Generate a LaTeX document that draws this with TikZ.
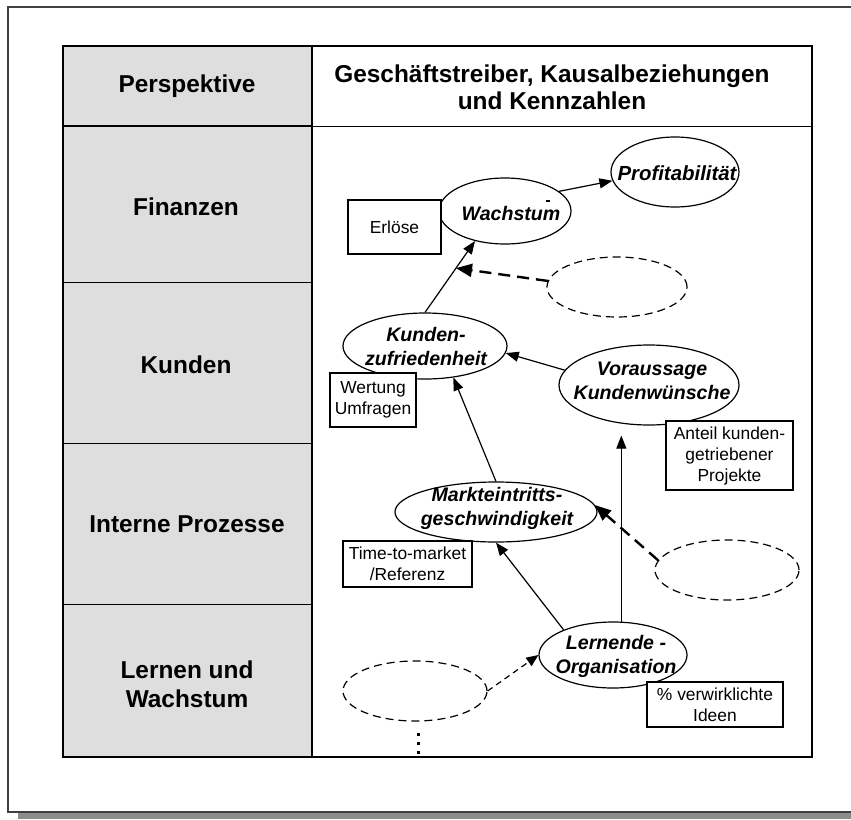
\documentclass[tikz,border=0pt]{standalone}
\usepackage{fontspec}
\setmainfont{Liberation Sans}
\usetikzlibrary{shapes.geometric,arrows.meta,calc}

\begin{document}
\begin{tikzpicture}[x=0.5pt,y=-0.5pt,
  oval/.style={ellipse, draw=black, line width=0.6pt, fill=white, inner sep=0pt},
  ghost/.style={ellipse, draw=black, line width=0.6pt, dash pattern=on 4pt off 2.5pt, inner sep=0pt},
  drv/.style={font=\fontsize{9.8}{12}\selectfont\bfseries\itshape, align=center, inner sep=0pt},
  kpi/.style={draw=black, line width=0.6pt, fill=white, font=\fontsize{8.7}{10.5}\selectfont, align=center, inner sep=0pt},
  persp/.style={font=\fontsize{12.2}{14.5}\selectfont\bfseries, align=center, inner sep=0pt},
  link/.style={line width=0.6pt, -{Triangle[length=6.5pt,width=5pt]}},
  hint/.style={line width=1.2pt, dash pattern=on 6pt off 3.5pt, -{Triangle[length=8pt,width=6.5pt]}},
  thinhint/.style={line width=0.6pt, dash pattern=on 3pt off 2.2pt, -{Triangle[length=6pt,width=5pt]}},
]
\useasboundingbox (0,0) rectangle (851,819);
\fill[white] (0,0) rectangle (851,819);

% page frame, open to the right, with its drop shadow
\fill[black!45] (18,812) rectangle (851,819);
\draw[black!75, line width=0.8pt] (851,7) -- (8,7) -- (8,812) -- (851,812);

% table: perspective column and driver column
\draw[black, line width=0.6pt] (312,46) rectangle (812,757);
\draw[black, line width=0.5pt] (312,126) -- (812,126);
\draw[black, line width=1pt, fill=black!13] (63,46) rectangle (312,757);
\draw[black, line width=1.2pt] (63,126) -- (312,126);
\draw[black, line width=0.5pt] (63,282) -- (312,282);
\draw[black, line width=0.5pt] (63,443) -- (312,443);
\draw[black, line width=0.5pt] (63,604) -- (312,604);

% headings
\node[persp] (hP) at (187,86) {Perspektive};
\node[persp, font=\fontsize{12.2}{13.5}\selectfont\bfseries] (hG) at (552,87) {Geschäftstreiber, Kausalbeziehungen\\und Kennzahlen};
\node[persp] (pF) at (186,207) {Finanzen};
\node[persp] (pK) at (186,365) {Kunden};
\node[persp] (pI) at (187,524) {Interne Prozesse};
\node[persp] (pL) at (187,684) {Lernen und\\Wachstum};

% driver ellipses
\node[oval, minimum width=66pt, minimum height=33pt] (wach) at (505,211) {};
\node[oval, minimum width=64pt, minimum height=35pt] (prof) at (675,172) {};
\node[ghost, minimum width=70pt, minimum height=30pt] (d1) at (617,287) {};
\node[oval, minimum width=82pt, minimum height=33pt] (kz) at (425,346) {};
\node[oval, minimum width=90pt, minimum height=40pt] (vw) at (649,385) {};
\node[oval, minimum width=101pt, minimum height=30pt] (mk) at (496,512) {};
\node[ghost, minimum width=72pt, minimum height=30pt] (d2) at (727,570) {};
\node[oval, minimum width=74pt, minimum height=33pt] (lo) at (613,655) {};
\node[ghost, minimum width=72pt, minimum height=30pt] (d3) at (415,691) {};

% driver names
\node[drv] (tWach) at (511,213) {Wachstum};
\draw[line width=0.75pt] (546,201) -- (550,201);
\node[drv, font=\fontsize{10.2}{12}\selectfont\bfseries\itshape] (tProf) at (677,173) {Profitabilität};
\node[drv] (tKz) at (426,346) {Kunden-\\zufriedenheit};
\node[drv] (tVw) at (652,381) {Voraussage\\Kundenwünsche};
\node[drv] (tMk) at (497,508) {Markteintritts-\\geschwindigkeit};
\node[drv] (tLo) at (616,656) {Lernende -\\Organisation};

% measures
\node[kpi, minimum width=46.5pt, minimum height=27pt] (kE) at (394.5,227) {Erlöse};
\node[kpi, minimum width=43pt, minimum height=27pt] (kW) at (373,400) {Wertung\\Umfragen};
\node[kpi, minimum width=63.5pt, minimum height=34.5pt] (kA) at (729.5,455.5) {Anteil kunden-\\getriebener\\Projekte};
\node[kpi, minimum width=64.5pt, minimum height=23pt] (kT) at (407.5,564) {Time-to-market\\/Referenz};
\node[kpi, minimum width=68pt, minimum height=22.5pt] (kV) at (715,704.5) {\% verwirklichte\\Ideen};

% cause-and-effect links
\draw[link] (wach.20) -- (prof.188);
\draw[link] (kz.north) -- (wach.225);
\draw[link] (vw.170) -- (kz.355);
\draw[link] (mk.north) -- (kz.312);
\draw[link] (lo.153) -- (mk.south);
\draw[link, shorten >=5pt] (lo.76) -- (lo.76 |- vw.south);

% open drivers
\coordinate (m1) at ($(kz.north)!0.62!(wach.225)$);
\draw[hint] (d1.175) -- (m1);
\draw[hint] (d2.172) -- (mk.4);
\draw[thinhint] (d3.east) -- (lo.west);

% continuation below the open learning driver
\coordinate (dTop) at (418,733);
\coordinate (dEnd) at (418,757);
\draw[line width=1.5pt, dash pattern=on 1.5pt off 3pt] (dTop) -- (dEnd);
\end{tikzpicture}
\end{document}
